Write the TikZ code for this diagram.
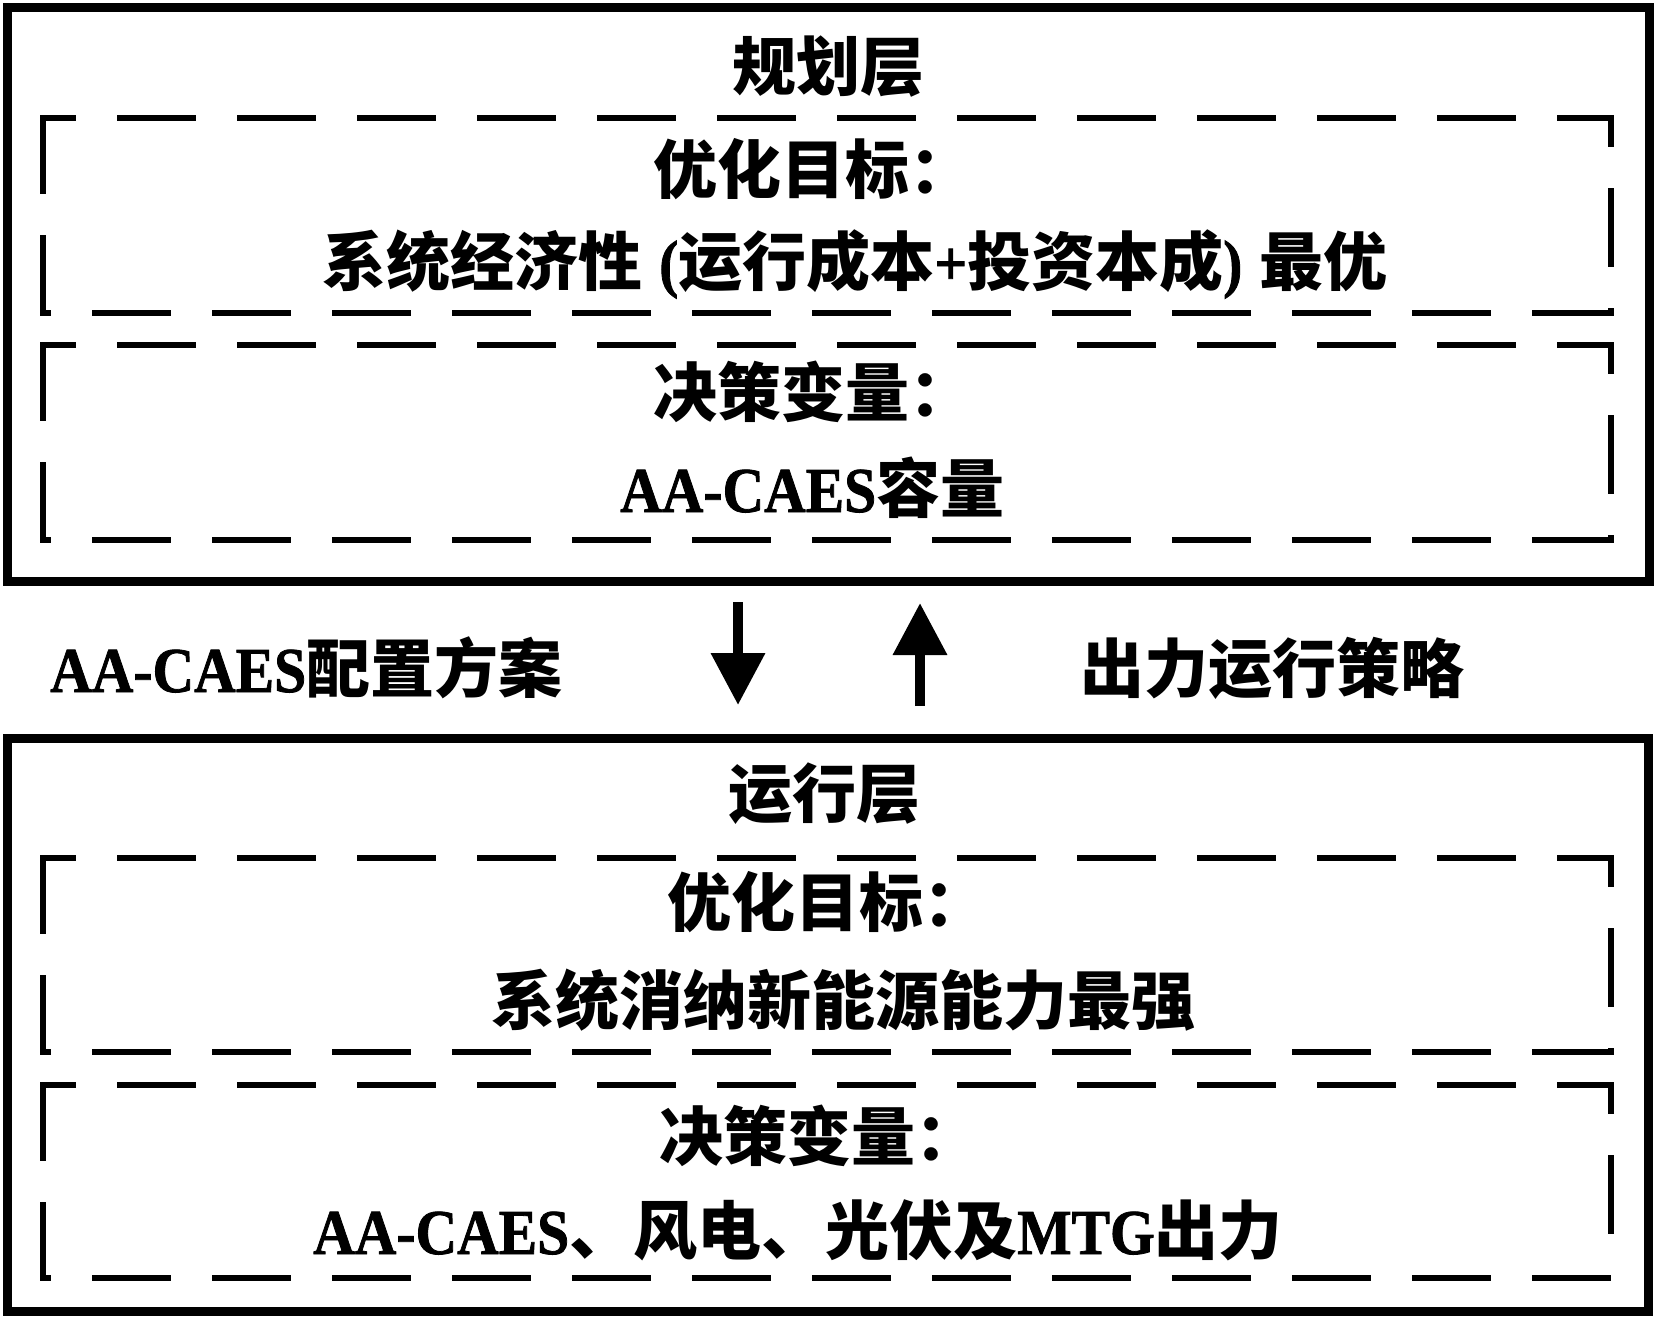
\documentclass[tikz,border=0pt]{standalone}
\usepackage{fontspec}
\usetikzlibrary{arrows.meta}
\newfontfamily\cjk{Noto Sans CJK SC}
\newfontfamily\lat{Liberation Serif Bold}[FakeStretch=0.90,FakeBold=1.2]
\newcommand\La[1]{{\lat\fontsize{64}{64}\selectfont #1}}
\newcommand\dbox[6]{%
  \draw[dsh,dash phase=#5] (#1,#2) -- (#3,#2);
  \draw[dsh,dash phase=#6] (#1,#4) -- (#3,#4);
  \draw[dsh,dash phase=0] (#1,#2) -- (#1,#4);
  \draw[dsh,dash phase=47] (#3,#2) -- (#3,#4);}
\begin{document}
\begin{tikzpicture}[x=1pt,y=-1pt,
  txt/.style={anchor=base west,inner sep=0pt,font=\cjk\bfseries\fontsize{64}{64}\selectfont},
  outer/.style={draw,line width=9pt},
  dsh/.style={line width=6pt,line cap=rect,dash pattern=on 73pt off 47pt},
  arr/.style={line width=10pt,-{Triangle[width=52pt,length=52pt]}}]
\useasboundingbox[fill=white] (0,0) rectangle (1654,1318);
% outer layer boxes
\draw[outer] (7,7) rectangle (1649,581);
\draw[outer] (7,738) rectangle (1648,1311);
% dashed boxes
\dbox{43}{118}{1611}{313}{43}{68}
\dbox{43}{345}{1611}{540}{43}{68}
\dbox{43}{858}{1611}{1052}{43}{68}
\dbox{43}{1085}{1611}{1278}{43}{68}
% texts
\node[txt] (t1) at (732,90) {规划层};
\node[txt] (t2) at (653,193) {优化目标：};
\node[txt] (t3) at (322,285) {系统经济性\hspace{17pt}\La{(}运行成本\La{+}投资本成\La{)}\hspace{17pt}最优};
\node[txt] (t4) at (653,416) {决策变量：};
\node[txt] (t5) at (620,512) {\La{AA-CAES}容量};
\node[txt] (t6) at (50,692) {\La{AA-CAES}配置方案};
\node[txt] (t7) at (1080,692) {出力运行策略};
\node[txt] (t8) at (728,817) {运行层};
\node[txt] (t9) at (667,926) {优化目标：};
\node[txt] (t10) at (491,1024) {系统消纳新能源能力最强};
\node[txt] (t11) at (659,1160) {决策变量：};
\node[txt] (t12) at (313,1254) {\La{AA-CAES}、风电、光伏及\La{MTG}出力};
% arrows
\coordinate (d1) at (738,602);
\coordinate (d2) at (738,705);
\coordinate (u1) at (920,706);
\coordinate (u2) at (920,603);
\draw[arr] (d1) -- (d2);
\draw[arr] (u1) -- (u2);
\end{tikzpicture}
\end{document}
